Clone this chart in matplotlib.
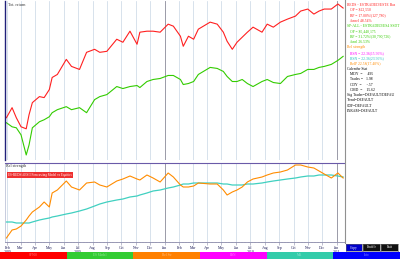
import pandas as pd
import matplotlib
matplotlib.use("Agg")
import matplotlib.pyplot as plt
import matplotlib.dates as mdates

dates = ["2009-01-30", "2009-02-11", "2009-02-20", "2009-03-02", "2009-03-13", "2009-03-19",
         "2009-03-26", "2009-04-10", "2009-04-20", "2009-05-01", "2009-05-07", "2009-05-18",
         "2009-06-06", "2009-06-17", "2009-07-04", "2009-07-19", "2009-08-05", "2009-08-16",
         "2009-08-31", "2009-09-21", "2009-10-04", "2009-10-19", "2009-11-03", "2009-11-09",
         "2009-11-24", "2009-12-07", "2009-12-22", "2010-01-08", "2010-01-19", "2010-02-03",
         "2010-02-09", "2010-02-20", "2010-03-03", "2010-03-13", "2010-04-07", "2010-04-22",
         "2010-05-05", "2010-05-13", "2010-05-24", "2010-06-03", "2010-06-14", "2010-06-25",
         "2010-07-07", "2010-07-26", "2010-08-06", "2010-08-19", "2010-09-03", "2010-09-18",
         "2010-10-05", "2010-10-16", "2010-10-31", "2010-11-13", "2010-11-24", "2010-12-05",
         "2010-12-20", "2011-01-03", "2011-01-14"]

# total return, %
model_ret = [2, 12, 2, -7, -9, 5, 17, 23, 22, 30, 42, 45, 60, 53, 50, 67, 70, 67, 68, 80,
             77, 88, 75, 87, 88, 88, 87, 95, 93, 83, 73, 83, 80, 90, 97, 95, 87, 78, 70, 77,
             82, 87, 92, 87, 95, 92, 97, 100, 103, 108, 110, 105, 108, 110, 110, 115, 111]
index_ret = [-3, -7, -8, -15, -35, -25, -8, -2, 0, 3, 7, 10, 13, 10, 12, 7, 20, 23, 25, 33,
             31, 33, 34, 32, 38, 40, 41, 44, 44, 40, 35, 36, 38, 45, 52, 51, 48, 43, 38, 38,
             40, 36, 33, 38, 40, 37, 36, 43, 45, 46, 50, 50, 52, 53, 55, 59, 63]

# relative strength and its moving average
rel_str = [4, 12, 13, 16, 22, 26, 30, 35, 40, 35, 49, 52, 61, 55, 52, 59, 60, 57, 55, 61,
           63, 66, 63, 62, 67, 64, 60, 69, 65, 57, 55, 55, 56, 59, 58, 58, 52, 47, 50, 52,
           55, 60, 63, 65, 67, 69, 70, 72, 77, 77, 75, 74, 71, 68, 64, 69, 64]
rel_ma = [20, 20, 19, 19, 19, 19, 20, 22, 23, 24, 25, 26, 28, 29, 31, 33, 36, 38, 40, 42,
          43, 45, 46, 47, 49, 51, 52, 54, 55, 57, 58, 58, 59, 59, 59, 59, 58, 58, 57, 57,
          57, 58, 58, 59, 60, 61, 62, 63, 64, 65, 66, 66, 67, 67, 67, 66, 65]

legend_lines = [
    ("REDS - ESTRADED/ESTE Bas", "#ff2020"),
    ("   OP = $22,550", "#ff2020"),
    ("   BP = 17.00%/(127,780)", "#ff2020"),
    ("   Annel 48.54%", "#ff2020"),
    ("SP-ALL - ESTRADED/ES4 SSDT", "#33cc00"),
    ("   OP = $5,440,175", "#33cc00"),
    ("   BP = 31.72%/(30,790,726)", "#33cc00"),
    ("   Annl 26.53%", "#33cc00"),
    ("Rel strength", "#ff8c00"),
    ("   RSN = 22.36(15.96%)", "#ff00ff"),
    ("   RSN = 22.36(23.96%)", "#20c0c0"),
    ("   RelP 22.58(17.40%)", "#ff8c00"),
    ("Calendar Stat", "black"),
    ("   MDY  =     495", "black"),
    ("   Trades =   1.98", "black"),
    ("   CDY  =     -.57", "black"),
    ("   CMD  =    15.62", "black"),
    ("Sig Trader=DEFAULT/DEFAU", "black"),
    ("Trend=DEFAULT", "black"),
    ("CDF=DEFAULT", "black"),
    ("PARAM=DEFAULT", "black"),
]

bar_names = ["SP500", "ES Model", "Rel Str", "RSN", "MA", "Info"]
bar_colors = ["#ff0000", "#33cc33", "#ff8000", "#ff00ff", "#33ccaa", "#0000ff"]

plt.rcParams["font.family"] = ["Liberation Serif", "DejaVu Sans"]

W, H = 400, 259
fig = plt.figure(figsize=(4, 2.59), dpi=100)
fig.patch.set_facecolor("white")


def px(l, t, r, b):
    return [l / W, 1 - b / H, (r - l) / W, (b - t) / H]


d = pd.to_datetime(dates)
xmin, xmax = pd.Timestamp("2009-01-27"), pd.Timestamp("2011-01-18")
months = pd.date_range("2009-02-01", "2011-01-01", freq="MS")


def grid(ax):
    for m in months:
        if m.month == 1:
            ax.axvline(m, color="#8a8a9a", lw=0.6, zorder=0)
        else:
            ax.axvline(m, color="#c8d6e4", lw=0.5, zorder=0)


# top panel
ax1 = fig.add_axes(px(5, 1, 345, 160))
grid(ax1)
ax1.plot(d, index_ret, color="#33cc00", lw=0.8)
ax1.plot(d, model_ret, color="#ff2020", lw=0.8)
ax1.set_xlim(xmin, xmax)
ax1.set_ylim(-40, 118)
ax1.set_xticks([])
ax1.set_yticks([])
for s in ax1.spines.values():
    s.set_visible(False)
ax1.spines["left"].set_visible(True)
ax1.spines["left"].set_color("#20207a")
ax1.spines["left"].set_linewidth(1.0)
ax1.text(0.01, 0.99, "Tot. return", transform=ax1.transAxes, fontsize=3, va="top", color="#333333")

# bottom panel
ax2 = fig.add_axes(px(5, 163, 345, 242))
grid(ax2)
ax2.plot(d, rel_ma, color="#40d0c0", lw=0.9)
ax2.plot(d, rel_str, color="#ff8c00", lw=0.8)
ax2.set_xlim(xmin, xmax)
ax2.set_ylim(0, 79)
ax2.set_yticks([])
for s in ax2.spines.values():
    s.set_visible(False)
ax2.spines["top"].set_visible(True)
ax2.spines["top"].set_color("#6a5aa8")
ax2.spines["top"].set_linewidth(0.8)
ax2.spines["bottom"].set_visible(True)
ax2.spines["bottom"].set_color("#8a8aaa")
ax2.spines["bottom"].set_linewidth(0.6)
ax2.spines["left"].set_visible(True)
ax2.spines["left"].set_color("#b0b8d0")
ax2.spines["left"].set_linewidth(0.5)
ax2.text(0.002, 0.99, "Rel strength", transform=ax2.transAxes, fontsize=3, va="top", color="#333333")
ax2.text(0.01, 0.85, "ES-REDS/AES/3 Forecasting Model vs Equities", transform=ax2.transAxes,
         fontsize=2.3, va="center", color="white",
         bbox=dict(boxstyle="square,pad=0.3", fc="#ee3030", ec="none"))

ticklabels = []
for m in months:
    if m == months[0] or m.month in (7,) or m == months[-1]:
        ticklabels.append(m.strftime("%b\n%Y"))
    else:
        ticklabels.append(m.strftime("%b"))
ax2.set_xticks(months)
ax2.set_xticklabels(ticklabels, fontsize=2.8, color="#20205a", linespacing=0.9)
ax2.xaxis.set_minor_locator(mdates.WeekdayLocator(byweekday=mdates.MO))
ax2.tick_params(axis="x", which="major", length=2, width=0.4, color="#8a8aaa", pad=1)
ax2.tick_params(axis="x", which="minor", length=1, width=0.3, color="#8a8aaa")

# right info panel
ax3 = fig.add_axes(px(345, 0, 400, 243))
ax3.set_xlim(0, 1)
ax3.set_ylim(0, 1)
ax3.set_xticks([])
ax3.set_yticks([])
for s in ax3.spines.values():
    s.set_visible(False)
ax3.spines["left"].set_visible(True)
ax3.spines["left"].set_color("#909090")
ax3.spines["left"].set_linewidth(0.8)
for i, (txt, col) in enumerate(legend_lines):
    yy = 5 + i * 5.3
    ax3.text(0.04, 1 - yy / 243, txt, fontsize=2.7, color=col, va="center", ha="left")

# buttons
for (l, r, label, fc) in [(346, 362, "Copy", "#0000cc"), (363, 380, "Enable", "#111111"),
                          (381, 398, "Exit", "#111111")]:
    bx = fig.add_axes(px(l, 244, r, 251))
    bx.set_facecolor(fc)
    bx.set_xticks([])
    bx.set_yticks([])
    for s in bx.spines.values():
        s.set_color("#666666")
        s.set_linewidth(0.4)
    bx.text(0.5, 0.5, label, transform=bx.transAxes, fontsize=2.6, color="white",
            ha="center", va="center")

# bottom colour strip
ax4 = fig.add_axes(px(0, 252, 400, 259))
for i, (name, col) in enumerate(zip(bar_names, bar_colors)):
    ax4.barh(0, 1, left=i, height=1, color=col)
    ax4.text(i + 0.5, 0, name, fontsize=2.4, color="#ffffff", alpha=0.5, ha="center", va="center")
ax4.set_xlim(0, 6)
ax4.set_ylim(-0.5, 0.5)
ax4.axis("off")

fig.savefig("out.png", dpi=100)
